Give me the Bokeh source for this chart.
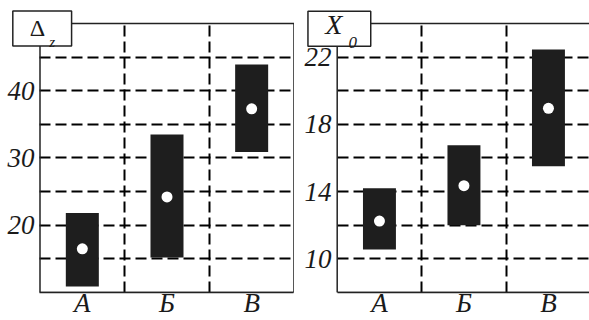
from bokeh.plotting import figure
from bokeh.models import Range1d, FixedTicker, Label, Grid
from bokeh.layouts import row
from bokeh.embed import file_html
from bokeh.resources import INLINE

# ---- data ----
categories = ["А", "Б", "В"]

dz_low = [10.9, 15.2, 30.9]
dz_high = [21.8, 33.5, 43.9]
dz_mid = [16.5, 24.2, 37.3]
dz_ticks = [20, 30, 40]
dz_grid = [15, 20, 25, 30, 35, 40, 45]
dz_box = (10, 50)

x0_low = [10.55, 12.0, 15.5]
x0_high = [14.2, 16.75, 22.45]
x0_mid = [12.25, 14.35, 18.95]
x0_ticks = [10, 14, 18, 22]
x0_grid = [10, 12, 14, 16, 18, 20, 22]
x0_box = (8, 24)

FONT = "Liberation Serif"
INK = "#1e1e1e"
EDGE = "#222222"
HAS_CROSS = "cross_bounds" in Grid.properties()


def panel(width, xr, yr, box, low, high, mid, ticks, grid, y_standoff):
    n = len(categories)
    xs = [i + 0.5 for i in range(n)]
    p = figure(width=width, height=320,
               x_range=Range1d(*xr), y_range=Range1d(*yr),
               output_backend="svg", toolbar_location=None,
               min_border_left=0, min_border_right=0,
               min_border_top=0, min_border_bottom=27)
    p.title.visible = False
    p.background_fill_color = "white"
    p.border_fill_color = "white"
    p.outline_line_color = None

    p.xaxis.ticker = FixedTicker(ticks=xs)
    p.xaxis.major_label_overrides = {x: c for x, c in zip(xs, categories)}
    p.xaxis.bounds = (0, n)
    p.xaxis.axis_line_color = EDGE
    p.xaxis.axis_line_width = 1.5
    p.yaxis.ticker = FixedTicker(ticks=ticks)
    p.yaxis.axis_line_color = None
    for ax in (p.xaxis, p.yaxis):
        ax.major_tick_line_color = None
        ax.minor_tick_line_color = None
        ax.major_tick_in = 0
        ax.major_tick_out = 0
        ax.major_label_text_font = FONT
        ax.major_label_text_font_style = "italic"
        ax.major_label_text_font_size = "27px"
        ax.major_label_text_color = "#1a1a1a"
    p.xaxis.major_label_standoff = -5
    p.yaxis.major_label_standoff = y_standoff

    vgrid = list(range(1, n))
    dash = "11 5"
    if HAS_CROSS:
        p.xgrid.ticker = FixedTicker(ticks=vgrid)
        p.ygrid.ticker = FixedTicker(ticks=grid)
        p.xgrid.cross_bounds = box
        p.ygrid.cross_bounds = (0, n)
        for g in (p.xgrid, p.ygrid):
            g.grid_line_color = "black"
            g.grid_line_width = 2
            g.grid_line_dash = dash
            g.grid_line_alpha = 1.0
    else:
        p.xgrid.visible = False
        p.ygrid.visible = False
        p.segment(x0=vgrid, x1=vgrid, y0=[box[0]] * len(vgrid), y1=[box[1]] * len(vgrid),
                  line_color="black", line_width=2, line_dash=dash)
        p.segment(x0=[0] * len(grid), x1=[n] * len(grid), y0=grid, y1=grid,
                  line_color="black", line_width=2, line_dash=dash)

    # plot box
    p.quad(left=[0], right=[n], bottom=[box[0]], top=[box[1]],
           fill_color=None, line_color=EDGE, line_width=1.5)

    p.vbar(x=xs, bottom=low, top=high, width=0.39, fill_color=INK, line_color=None)
    p.scatter(x=xs, y=mid, size=11, fill_color="white", line_color=None)
    return p


left = panel(294, (-0.4665, 3.006), (10, 53.407), dz_box,
             dz_low, dz_high, dz_mid, dz_ticks, dz_grid, -34)
right = panel(295, (-0.5053, 2.9858), (8, 25.363), x0_box,
              x0_low, x0_high, x0_mid, x0_ticks, x0_grid, -37)


def caption(p, bx, by, pad, main, mx, my, msize, mstyle, sub, sx, sy, ssize):
    p.add_layout(Label(x=bx, y=by, text=" ", text_align="center", text_baseline="middle",
                       text_font_size="10px", padding=pad,
                       background_fill_color="white", border_line_color=EDGE,
                       border_line_width=1.5))
    p.add_layout(Label(x=mx, y=my, text=main, text_font=FONT, text_font_style=mstyle,
                       text_font_size=msize, text_align="left", text_baseline="alphabetic",
                       text_color="#1a1a1a"))
    p.add_layout(Label(x=sx, y=sy, text=sub, text_font=FONT, text_font_style="italic",
                       text_font_size=ssize, text_align="left", text_baseline="alphabetic",
                       text_color="#1a1a1a"))


caption(left, 0.026, 49.23, (28, 12), "Δ", -0.1205, 49.25, "24px", "normal", "z", 0.109, 47.29, "15px")
caption(right, 0.0254, 23.69, (30, 12), "X", -0.142, 23.93, "28px", "italic", "0", 0.134, 22.87, "17px")

layout = row(left, right)
open("out.html", "w").write(file_html(layout, INLINE))
